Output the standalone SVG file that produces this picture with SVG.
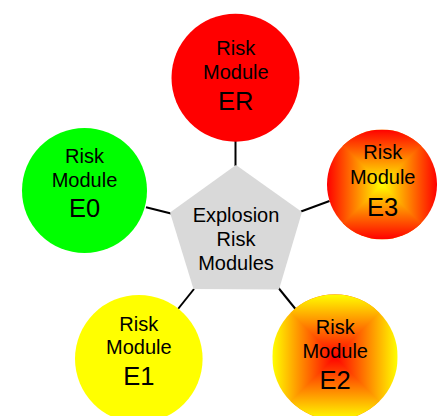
<svg xmlns="http://www.w3.org/2000/svg" width="437" height="416" viewBox="0 0 437 416">
  <style>
    text { font-family: "Liberation Sans", Arial, sans-serif; font-size: 20px; fill: #000; text-anchor: middle; }
    text.big { font-size: 25.5px; }
    .link { stroke: #000; stroke-width: 2; fill: none; }
    .hub { fill: #d9d9d9; }
  </style>
  <defs>
    <!-- rectangular (square-path) gradients: horizontal base + vertical bow-tie overlay -->
    <linearGradient id="e3h" gradientUnits="userSpaceOnUse" x1="382" y1="0" x2="437" y2="0" spreadMethod="reflect">
      <stop offset="0" stop-color="#ffff00"/>
      <stop offset="1" stop-color="#ff0000"/>
    </linearGradient>
    <linearGradient id="e3v" gradientUnits="userSpaceOnUse" x1="0" y1="184.5" x2="0" y2="239.5" spreadMethod="reflect">
      <stop offset="0" stop-color="#ffff00"/>
      <stop offset="1" stop-color="#ff0000"/>
    </linearGradient>
    <linearGradient id="e2h" gradientUnits="userSpaceOnUse" x1="335" y1="0" x2="397.7" y2="0" spreadMethod="reflect">
      <stop offset="0" stop-color="#ff0000"/>
      <stop offset="1" stop-color="#ffff00"/>
    </linearGradient>
    <linearGradient id="e2v" gradientUnits="userSpaceOnUse" x1="0" y1="357" x2="0" y2="419.7" spreadMethod="reflect">
      <stop offset="0" stop-color="#ff0000"/>
      <stop offset="1" stop-color="#ffff00"/>
    </linearGradient>
    <clipPath id="clipE3"><circle cx="382" cy="184.5" r="55"/></clipPath>
    <clipPath id="clipE2"><circle cx="335" cy="357" r="62.7"/></clipPath>
  </defs>

  <rect width="437" height="416" fill="#fff"/>

  <g id="connectors">
    <line class="link" x1="235.5" y1="141" x2="235.5" y2="166"/>
    <line class="link" x1="146" y1="207.3" x2="171" y2="213.5"/>
    <line class="link" x1="301" y1="211.5" x2="329.5" y2="201"/>
    <line class="link" x1="278.5" y1="288" x2="295.5" y2="309"/>
    <line class="link" x1="194" y1="289" x2="178" y2="309"/>
  </g>

  <g id="hub">
    <polygon class="hub" points="236,165 302,212 279,289.5 193.5,289 170,212.5"/>
    <text x="236" y="222">Explosion</text>
    <text x="236" y="246">Risk</text>
    <text x="236" y="270">Modules</text>
  </g>

  <g id="module-er">
    <circle cx="235.5" cy="77.7" r="64" fill="#ff0000"/>
    <text x="235.8" y="55">Risk</text>
    <text x="235.8" y="79.3">Module</text>
    <text class="big" x="235.8" y="110">ER</text>
  </g>

  <g id="module-e0">
    <circle cx="84.5" cy="190.5" r="62.5" fill="#00ff00"/>
    <text x="84.5" y="162.7">Risk</text>
    <text x="84.5" y="186.7">Module</text>
    <text class="big" x="84.5" y="216.7">E0</text>
  </g>

  <g id="module-e3">
    <g clip-path="url(#clipE3)">
      <rect x="327" y="129.5" width="110" height="110" fill="url(#e3h)"/>
      <path d="M327,129.5 L437,129.5 L382,184.5 Z M327,239.5 L437,239.5 L382,184.5 Z" fill="url(#e3v)"/>
    </g>
    <text x="382.7" y="159.3">Risk</text>
    <text x="382.7" y="184">Module</text>
    <text class="big" x="382.7" y="216">E3</text>
  </g>

  <g id="module-e2">
    <g clip-path="url(#clipE2)">
      <rect x="272.3" y="294.3" width="125.4" height="125.4" fill="url(#e2h)"/>
      <path d="M272.3,294.3 L397.7,294.3 L335,357 Z M272.3,419.7 L397.7,419.7 L335,357 Z" fill="url(#e2v)"/>
    </g>
    <text x="335.2" y="334.3">Risk</text>
    <text x="335.2" y="358.3">Module</text>
    <text class="big" x="335.2" y="389.3">E2</text>
  </g>

  <g id="module-e1">
    <circle cx="138.8" cy="358.8" r="63.8" fill="#ffff00"/>
    <text x="138.8" y="330.7">Risk</text>
    <text x="138.8" y="354">Module</text>
    <text class="big" x="138.8" y="385">E1</text>
  </g>
</svg>
